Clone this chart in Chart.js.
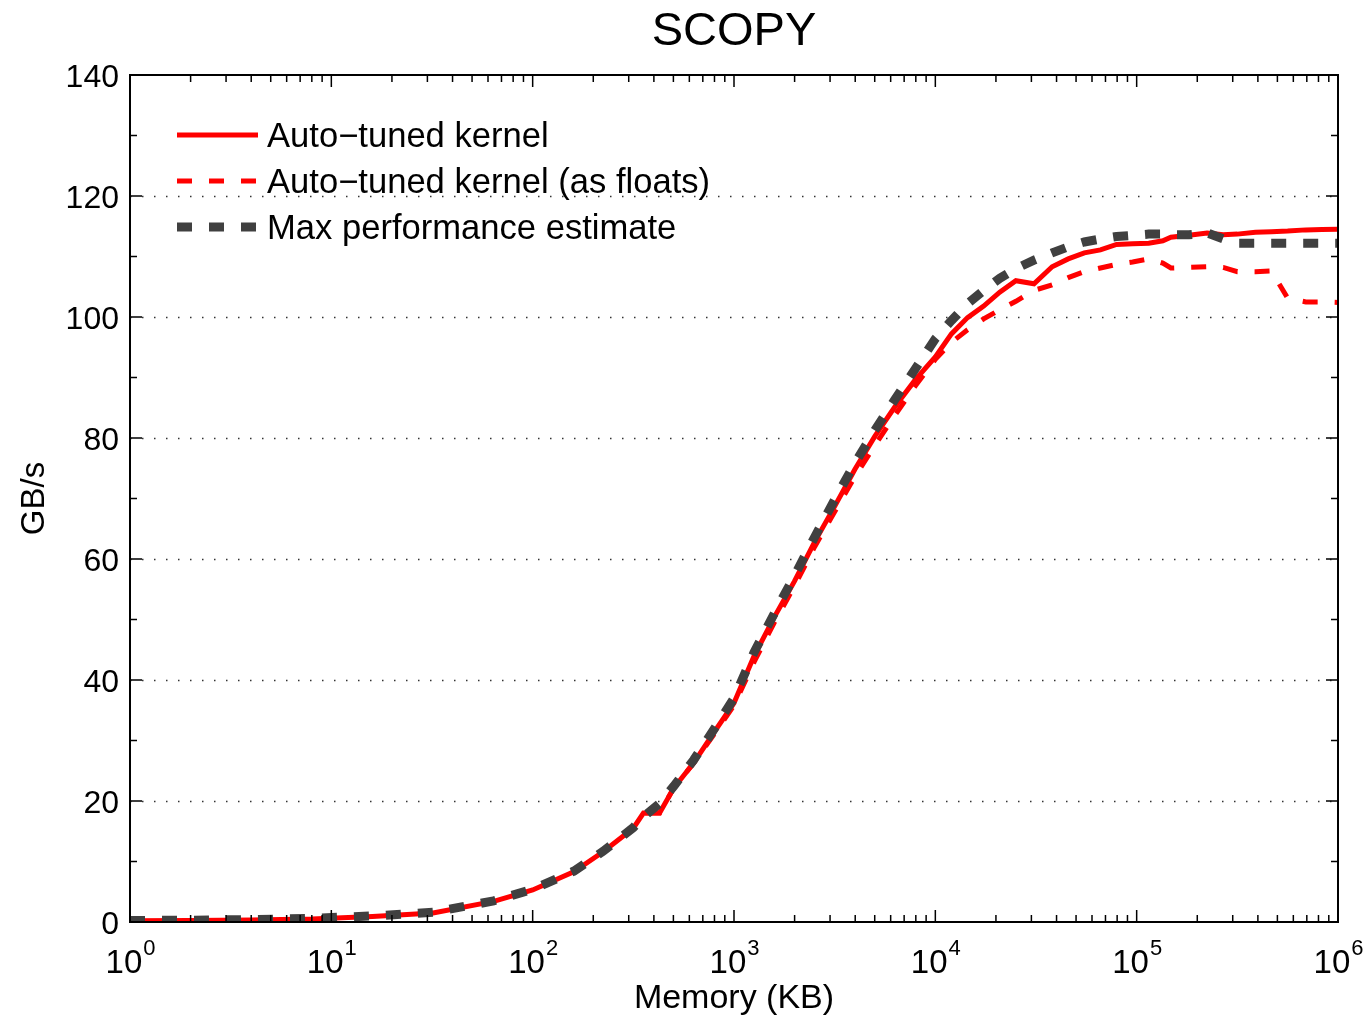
<!DOCTYPE html>
<html>
<head>
<meta charset="utf-8">
<title>SCOPY</title>
<script src="https://cdn.jsdelivr.net/npm/chart.js@4.4.1/dist/chart.umd.min.js"></script>
<style>
  html, body { margin: 0; padding: 0; background: #fff; }
  #wrap { width: 1369px; height: 1019px; }
</style>
</head>
<body>
<div id="wrap"><canvas id="chart" width="1369" height="1019"></canvas></div>
<script>
// Memory sizes (KB) and measured bandwidth (GB/s)
const memKB = [
  1, 2, 4, 8, 16, 32, 64, 100, 160, 224, 316, 355, 427, 501, 631, 794,
  1000, 1259, 1585, 1995, 2512, 3162, 3981, 5012, 6310, 7943,
  10000, 12023, 14454, 17378, 20893, 25119, 30903, 38019, 45709, 54954, 66069, 79433, 95499,
  114815, 134896, 147911, 181970, 223872, 269153, 316228, 389045, 467735, 562341, 691831, 831764, 1000000,
];
const autoTuned = [
  0.2, 0.25, 0.35, 0.5, 0.9, 1.5, 3.4, 5.3, 8.3, 11.6, 15.5, 18.0, 18.0, 22.1, 26.3, 31.3,
  36.2, 44.0, 50.4, 56.3, 62.8, 68.7, 74.8, 80.3, 85.2, 89.6,
  93.4, 97.2, 99.9, 101.8, 104.1, 106.0, 105.5, 108.3, 109.6, 110.6, 111.1, 112.0, 112.1,
  112.2, 112.6, 113.2, 113.5, 113.9, 113.6, 113.7, 114.0, 114.1, 114.2, 114.4, 114.45, 114.5,
];
const autoTunedFloats = [
  0.2, 0.25, 0.35, 0.5, 0.9, 1.5, 3.4, 5.3, 8.3, 11.6, 15.5, 18.0, 18.0, 22.1, 26.3, 31.0,
  35.8, 43.0, 49.5, 55.5, 62.0, 67.8, 73.6, 78.8, 83.8, 88.6,
  93.0, 95.8, 97.9, 99.7, 101.2, 102.6, 104.4, 105.3, 106.5, 107.5, 108.1, 108.7, 109.1,
  109.6, 108.9, 108.1, 108.2, 108.3, 108.2, 107.5, 107.5, 107.6, 103.1, 102.5, 102.5, 102.4,
];
const maxEstimate = [
  0.25, 0.3, 0.4, 0.6, 1.0, 1.6, 3.5, 5.4, 8.4, 11.7, 15.6, 17.4, 19.6, 22.4, 26.8, 31.8,
  37.0, 44.6, 51.0, 57.2, 63.6, 69.8, 75.8, 81.3, 86.4, 91.4,
  96.4, 99.4, 102.2, 104.4, 106.4, 108.0, 109.4, 110.6, 111.6, 112.4, 112.9, 113.3, 113.5,
  113.7, 113.7, 113.6, 113.6, 113.9, 112.9, 112.2, 112.2, 112.2, 112.2, 112.2, 112.2, 112.2,
];

const seriesLabels = ["Auto\u2212tuned kernel", "Auto\u2212tuned kernel (as floats)", "Max performance estimate"];
const yTicks = [0, 20, 40, 60, 80, 100, 120, 140];
const xDecades = [0, 1, 2, 3, 4, 5, 6];

const FONT = '"Liberation Sans", Arial, Helvetica, sans-serif';
const C = { red: "#ff0000", gray: "#404040", ink: "#000000", dots: "#333333" };

const pts = (ys) => memKB.map((x, i) => ({ x, y: ys[i] }));

// MATLAB-style box axes: dotted y grid, inward ticks, superscript decade labels
const axesPlugin = {
  id: "boxAxes",
  beforeDatasetsDraw(chart) {
    const { ctx, chartArea: a, scales: { y } } = chart;
    ctx.save();
    ctx.strokeStyle = C.dots;
    ctx.lineWidth = 1.5;
    ctx.setLineDash([1.5, 10.5]);
    yTicks.slice(1, -1).forEach((v) => {
      const py = Math.round(y.getPixelForValue(v)) + 0.5;
      ctx.beginPath(); ctx.moveTo(a.left, py); ctx.lineTo(a.right, py); ctx.stroke();
    });
    ctx.restore();
  },
  afterDatasetsDraw(chart) {
    const { ctx, chartArea: a, scales: { x, y } } = chart;
    ctx.save();
    ctx.strokeStyle = C.ink;
    ctx.fillStyle = C.ink;
    ctx.setLineDash([]);

    // ticks
    ctx.lineWidth = 1.5;
    const vTick = (px, len) => {
      ctx.beginPath();
      ctx.moveTo(px, a.bottom); ctx.lineTo(px, a.bottom - len);
      ctx.moveTo(px, a.top); ctx.lineTo(px, a.top + len);
      ctx.stroke();
    };
    const hTick = (py, len) => {
      ctx.beginPath();
      ctx.moveTo(a.left, py); ctx.lineTo(a.left + len, py);
      ctx.moveTo(a.right, py); ctx.lineTo(a.right - len, py);
      ctx.stroke();
    };
    xDecades.forEach((k) => {
      vTick(x.getPixelForValue(10 ** k), 12);
      if (k < 6) for (let m = 2; m <= 9; m++) vTick(x.getPixelForValue(m * 10 ** k), 7);
    });
    for (let v = 0; v <= 140; v += 10) hTick(y.getPixelForValue(v), v % 20 === 0 ? 12 : 7);

    // box
    ctx.lineWidth = 2;
    ctx.strokeRect(a.left, a.top, a.right - a.left, a.bottom - a.top);

    // y tick labels
    ctx.font = `32px ${FONT}`;
    ctx.textAlign = "right";
    ctx.textBaseline = "alphabetic";
    yTicks.forEach((v) => ctx.fillText(String(v), a.left - 11, y.getPixelForValue(v) + 12));

    // x tick labels as 10^k
    xDecades.forEach((k) => {
      const px = x.getPixelForValue(10 ** k);
      ctx.font = `33px ${FONT}`;
      const wb = ctx.measureText("10").width;
      ctx.font = `22px ${FONT}`;
      const we = ctx.measureText(String(k)).width;
      const left = px - (wb + we) / 2;
      ctx.textAlign = "left";
      ctx.font = `33px ${FONT}`;
      ctx.fillText("10", left, 973);
      ctx.font = `22px ${FONT}`;
      ctx.fillText(String(k), left + wb + 1, 955);
    });

    // axis titles
    ctx.textAlign = "center";
    ctx.font = `34px ${FONT}`;
    ctx.fillText("Memory (KB)", (a.left + a.right) / 2, 1008);
    ctx.save();
    ctx.translate(44, (a.top + a.bottom) / 2);
    ctx.rotate(-Math.PI / 2);
    ctx.font = `33px ${FONT}`;
    ctx.fillText("GB/s", 0, 0);
    ctx.restore();

    // title
    ctx.font = `47px ${FONT}`;
    ctx.fillText("SCOPY", (a.left + a.right) / 2, 45);

    // legend (no box)
    chart.data.datasets.forEach((ds, i) => {
      const cy = 135 + i * 46;
      ctx.save();
      ctx.strokeStyle = ds.borderColor;
      ctx.lineWidth = ds.borderWidth;
      ctx.lineCap = "butt";
      ctx.setLineDash(ds.borderDash || []);
      ctx.beginPath(); ctx.moveTo(177, cy); ctx.lineTo(258, cy); ctx.stroke();
      ctx.restore();
      ctx.textAlign = "left";
      ctx.font = `34.6px ${FONT}`;
      ctx.fillText(ds.label, 267, cy + 12);
    });
    ctx.restore();
  },
};

new Chart(document.getElementById("chart"), {
  type: "line",
  data: {
    datasets: [
      { label: seriesLabels[0], data: pts(autoTuned), borderColor: C.red, borderWidth: 5, order: 3 },
      { label: seriesLabels[1], data: pts(autoTunedFloats), borderColor: C.red, borderWidth: 5, borderDash: [15, 17], order: 2 },
      { label: seriesLabels[2], data: pts(maxEstimate), borderColor: C.gray, borderWidth: 9, borderDash: [15, 17], order: 1 },
    ],
  },
  options: {
    responsive: false, animation: false, devicePixelRatio: 1,
    layout: { padding: { left: 130, top: 75, right: 31, bottom: 97 } },
    elements: { point: { radius: 0 }, line: { tension: 0, borderCapStyle: "butt", borderJoinStyle: "miter" } },
    plugins: { legend: { display: false }, title: { display: false }, tooltip: { enabled: false } },
    scales: {
      x: { type: "logarithmic", min: 1, max: 1e6, display: false },
      y: { type: "linear", min: 0, max: 140, display: false },
    },
  },
  plugins: [axesPlugin],
});
</script>
</body>
</html>
